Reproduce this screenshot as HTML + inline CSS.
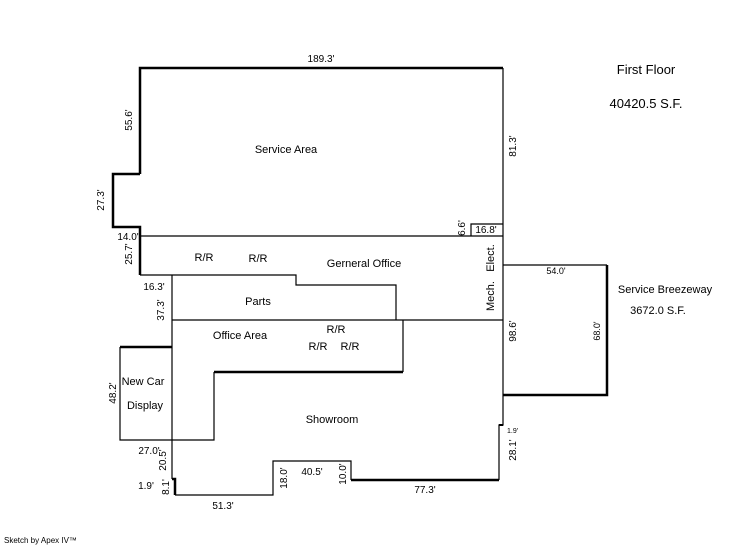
<!DOCTYPE html>
<html><head><style>
html,body{margin:0;padding:0;background:#fff;}
svg{display:block;}
text{font-family:"Liberation Sans",Arial,sans-serif;fill:#000;}
</style></head><body>
<svg width="746" height="547" viewBox="0 0 746 547" xmlns="http://www.w3.org/2000/svg">
<g stroke="#000" fill="none" stroke-width="1.2">
<!-- thick outline parts -->
<path d="M140 174 V68 H503" stroke-width="2.5"/>
<path d="M140 174 H113 V227 H140 V275" stroke-width="2.5"/>
<path d="M503 68 V425 H499 V480" />
<path d="M351 480 H499" stroke-width="2.5"/>
<path d="M499 425 H503" stroke-width="2"/>
<path d="M140 236 H503"/>
<path d="M471 236 V224 H503"/>
<path d="M140 275 H296 V285 H396 V320"/>
<path d="M172 275 V479"/>
<path d="M172 320 H503"/>
<path d="M403 320 V372"/>
<path d="M214 372 H403" stroke-width="2.5"/>
<path d="M214 372 V440 H120 V347"/>
<path d="M120 347 H172" stroke-width="2.5"/>
<path d="M172 479 H175 V495" stroke-width="2.5"/>
<path d="M175 495 H273 V461 H351 V480"/>
<path d="M503 265 H607"/>
<path d="M607 265 V395 H503" stroke-width="2.5"/>
</g>
<g font-size="11">
<text x="321" y="62" text-anchor="middle" font-size="10">189.3'</text>
<text x="286" y="153" text-anchor="middle">Service Area</text>
<text x="204" y="261" text-anchor="middle">R/R</text>
<text x="258" y="262" text-anchor="middle">R/R</text>
<text x="364" y="267" text-anchor="middle">Gerneral Office</text>
<text x="258" y="305" text-anchor="middle">Parts</text>
<text x="240" y="339" text-anchor="middle">Office Area</text>
<text x="336" y="333" text-anchor="middle">R/R</text>
<text x="318" y="350" text-anchor="middle">R/R</text>
<text x="350" y="350" text-anchor="middle">R/R</text>
<text x="143" y="385" text-anchor="middle">New Car</text>
<text x="145" y="409" text-anchor="middle">Display</text>
<text x="332" y="423" text-anchor="middle">Showroom</text>
<text x="665" y="293" text-anchor="middle">Service Breezeway</text>
<text x="658" y="314" text-anchor="middle">3672.0 S.F.</text>
<text x="646" y="74" text-anchor="middle" font-size="13">First Floor</text>
<text x="646" y="108" text-anchor="middle" font-size="13">40420.5 S.F.</text>
</g>
<g font-size="10">
<text x="128" y="240" text-anchor="middle">14.0'</text>
<text x="154" y="290" text-anchor="middle">16.3'</text>
<text x="486" y="233" text-anchor="middle">16.8'</text>
<text x="556" y="274" text-anchor="middle" font-size="9">54.0'</text>
<text x="149" y="454" text-anchor="middle">27.0'</text>
<text x="146" y="489" text-anchor="middle">1.9'</text>
<text x="223" y="509" text-anchor="middle">51.3'</text>
<text x="312" y="475" text-anchor="middle">40.5'</text>
<text x="425" y="493" text-anchor="middle">77.3'</text>
<text x="507" y="433" font-size="7">1.9'</text>
<text transform="translate(132,120) rotate(-90)" text-anchor="middle">55.6'</text>
<text transform="translate(104,200) rotate(-90)" text-anchor="middle">27.3'</text>
<text transform="translate(132,254) rotate(-90)" text-anchor="middle">25.7'</text>
<text transform="translate(164,310) rotate(-90)" text-anchor="middle">37.3'</text>
<text transform="translate(116,393) rotate(-90)" text-anchor="middle">48.2'</text>
<text transform="translate(166,460) rotate(-90)" text-anchor="middle">20.5'</text>
<text transform="translate(169,487) rotate(-90)" text-anchor="middle">8.1'</text>
<text transform="translate(287,478) rotate(-90)" text-anchor="middle">18.0'</text>
<text transform="translate(346,474) rotate(-90)" text-anchor="middle">10.0'</text>
<text transform="translate(516,146) rotate(-90)" text-anchor="middle">81.3'</text>
<text transform="translate(465,228) rotate(-90)" text-anchor="middle">6.6'</text>
<text transform="translate(516,331) rotate(-90)" text-anchor="middle">98.6'</text>
<text transform="translate(600,331) rotate(-90)" text-anchor="middle" font-size="9">68.0'</text>
<text transform="translate(516,450) rotate(-90)" text-anchor="middle">28.1'</text>
</g>
<g font-size="11">
<text transform="translate(494,296) rotate(-90)" text-anchor="middle">Mech.</text>
<text transform="translate(494,258) rotate(-90)" text-anchor="middle">Elect.</text>
</g>
<text x="4" y="543" font-size="8">Sketch by Apex IV™</text>
</svg>
</body></html>
